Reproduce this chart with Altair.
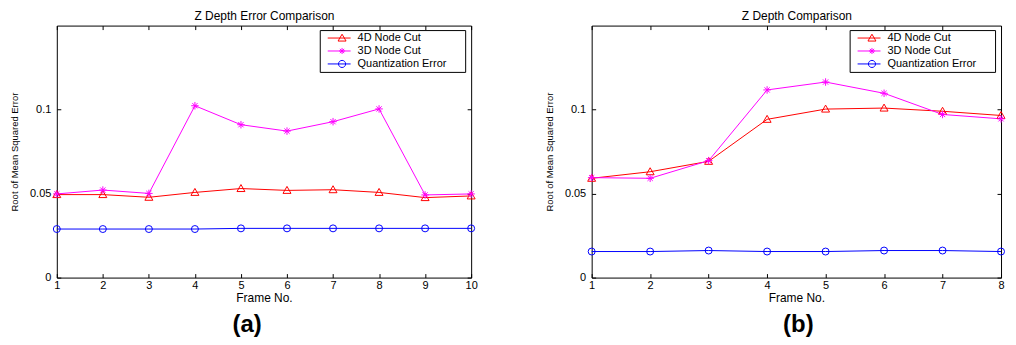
import altair as alt
import pandas as pd

SERIES = ["4D Node Cut", "3D Node Cut", "Quantization Error"]
COLORS = ["#ff0000", "#ff00ff", "#0000ff"]
Y_TICKS = [0, 0.05, 0.1]

frames_a = [1, 2, 3, 4, 5, 6, 7, 8, 9, 10]
cut4d_a = [0.0494, 0.0494, 0.0478, 0.0507, 0.0530, 0.0519, 0.0523, 0.0507, 0.0476, 0.0486]
cut3d_a = [0.0498, 0.0521, 0.0501, 0.1023, 0.0910, 0.0872, 0.0928, 0.1004, 0.0492, 0.0498]
quant_a = [0.0289, 0.0289, 0.0289, 0.0289, 0.0293, 0.0293, 0.0293, 0.0293, 0.0293, 0.0293]

frames_b = [1, 2, 3, 4, 5, 6, 7, 8]
cut4d_b = [0.0591, 0.0630, 0.0692, 0.0942, 0.1003, 0.1009, 0.0990, 0.0965]
cut3d_b = [0.0595, 0.0591, 0.0696, 0.1117, 0.1164, 0.1097, 0.0971, 0.0945]
quant_b = [0.0155, 0.0155, 0.0161, 0.0155, 0.0155, 0.0161, 0.0161, 0.0155]

MARKERS = [
    "M0,-1L1,0.75L-1,0.75Z",
    "M0,-1V1M-1,0H1M-0.7,-0.7L0.7,0.7M-0.7,0.7L0.7,-0.7",
    "circle",
]
MARKER_SIZES = [64, 49, 64]
LEGEND_SYMBOLS = [
    "M0,0H4.18M2.62,-0.7L3.35,0.55L1.89,0.55Z",
    "M0,0H4.18M2.62,-0.55V0.55M2.07,0H3.17M2.23,-0.39L3.01,0.39M2.23,0.39L3.01,-0.39",
    "M0,0H4.18M3.27,0A0.65,0.65 0 1,1 1.97,0A0.65,0.65 0 1,1 3.27,0",
]

FONT = "Liberation Sans"


def long_df(frames, s4, s3, sq):
    rows = []
    for name, vals in zip(SERIES, [s4, s3, sq]):
        for f, v in zip(frames, vals):
            rows.append({"frame": f, "value": v, "series": name})
    return pd.DataFrame(rows)


def panel(frames, s4, s3, sq, top_title, label, dx, width, legend_x):
    df = long_df(frames, s4, s3, sq)
    xs = alt.Scale(domain=[frames[0], frames[-1]], nice=False, zero=False)
    ys = alt.Scale(domain=[0, 0.15], nice=False)
    base = alt.Chart(df)

    lines = base.mark_line(strokeWidth=1).encode(
        x=alt.X("frame:Q", scale=xs,
                axis=alt.Axis(orient="bottom", values=frames, format="d",
                              title="Frame No.", labelPadding=2, titlePadding=2)),
        y=alt.Y("value:Q", scale=ys,
                axis=alt.Axis(orient="left", values=Y_TICKS, format="~g",
                              title="Root of Mean Squared Error", titleFontSize=9.5,
                              labelPadding=6, titlePadding=10)),
        color=alt.Color("series:N", scale=alt.Scale(domain=SERIES, range=COLORS), legend=None),
    )

    points = base.mark_point(filled=False, strokeWidth=1, opacity=1).encode(
        x=alt.X("frame:Q", scale=xs,
                axis=alt.Axis(orient="top", values=frames, labels=False,
                              title=top_title, titlePadding=3)),
        y=alt.Y("value:Q", scale=ys,
                axis=alt.Axis(orient="right", values=Y_TICKS, labels=False, title=None)),
        color=alt.Color("series:N", scale=alt.Scale(domain=SERIES, range=COLORS), legend=None),
        shape=alt.Shape("series:N", scale=alt.Scale(domain=SERIES, range=MARKERS), legend=None),
        size=alt.Size("series:N", scale=alt.Scale(domain=SERIES, range=MARKER_SIZES), legend=None),
    )

    legend_props = dict(
        title=None, orient="none", legendX=legend_x, legendY=4.5,
        labelExpr="datum.label + '\u2800\u2800'",
    )
    legend_layer = base.transform_filter("false").mark_point(
        filled=False, strokeWidth=1, opacity=1
    ).encode(
        x=alt.X("frame:Q", scale=xs, axis=None),
        y=alt.Y("value:Q", scale=ys, axis=None),
        color=alt.Color("series:N", scale=alt.Scale(domain=SERIES, range=COLORS),
                        legend=alt.Legend(**legend_props)),
        shape=alt.Shape("series:N", scale=alt.Scale(domain=SERIES, range=LEGEND_SYMBOLS),
                        legend=alt.Legend(**legend_props)),
    )

    return alt.layer(lines, points, legend_layer).resolve_scale(
        color="independent", shape="independent", size="independent"
    ).resolve_axis(x="independent", y="independent").properties(
        width=width,
        height=253,
        title=alt.TitleParams(text=label, orient="bottom", anchor="middle", frame="group",
                              fontSize=24, fontWeight="bold", font=FONT, color="black",
                              dx=dx, offset=10),
    )


left = panel(frames_a, cut4d_a, cut3d_a, quant_a, "Z Depth Error Comparison", "(a)", -17, 416, 264)
right = panel(frames_b, cut4d_b, cut3d_b, quant_b, "Z Depth Comparison", "(b)", 2, 411, 259)

chart = alt.hconcat(left, right, spacing=66).properties(
    padding={"left": 1, "top": 0, "right": 0, "bottom": 0}
).configure_view(
    stroke="black", strokeWidth=1
).configure_axis(
    domain=False, grid=False, offset=-4, tickSize=4, tickColor="black", tickWidth=1,
    labelFont=FONT, labelFontSize=11, labelColor="black",
    labelFlush=False, labelOverlap=False, labelBound=False,
    titleFont=FONT, titleFontSize=12, titleFontWeight="normal", titleColor="black",
).configure_legend(
    padding=2, rowPadding=1,
    strokeColor="black", fillColor="white", cornerRadius=0,
    labelFont=FONT, labelFontSize=11, labelColor="black", labelOffset=24,
    symbolSize=121, symbolStrokeWidth=1,
)

chart.save("out.html", embed_options={"renderer": "svg", "actions": False})
